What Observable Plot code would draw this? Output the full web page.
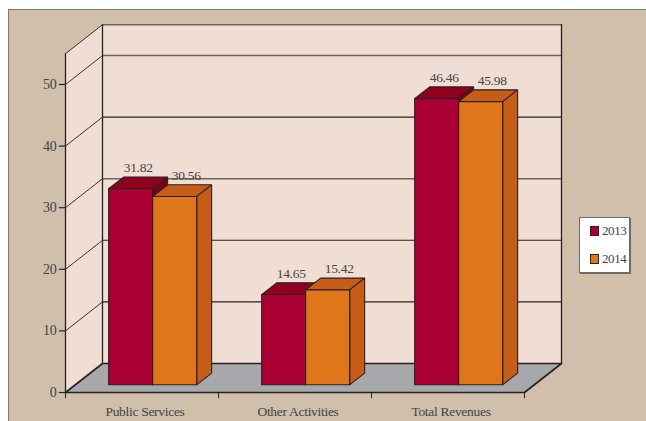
<!DOCTYPE html>
<html><head><meta charset="utf-8">
<style>
html,body{margin:0;padding:0;background:#fff;width:646px;height:421px;overflow:hidden}
#panel{position:absolute;left:8px;top:9px;right:0;bottom:0;background:#cfbfab;border-top:1px solid #7f7a76;border-left:1px solid #7f7a76}
#chart{position:absolute;left:0;top:0}
#chart svg{background:transparent;display:block}
#chart text{letter-spacing:-.3px}
#legend{position:absolute;left:579px;top:217px;width:49px;height:54px;background:#fff;border:1px solid #6f6a68;box-shadow:1px 1px 0 #6f6a68;font:13px "Liberation Serif",serif;color:#444;letter-spacing:-.4px}
#legend div{position:absolute;left:10px;display:flex;align-items:center;gap:3px;line-height:14px}
#legend i{display:block;width:7px;height:8px;border:1px solid #2a2020}
</style>
<script src="https://cdn.jsdelivr.net/npm/d3@7"></script>
<script src="https://cdn.jsdelivr.net/npm/@observablehq/plot@0.6"></script>
</head><body>
<div id="panel"></div>
<div id="chart"></div>
<div id="legend"></div>
<script>
const categories = ["Public Services", "Other Activities", "Total Revenues"];
const years = ["2013", "2014"];
const values2013 = [31.82, 14.65, 46.46];
const values2014 = [30.56, 15.42, 45.98];
const yTicks = [0, 10, 20, 30, 40, 50];
const frontColors = ["#ab0033", "#df771a"];
const topColors = ["#8f001f", "#c65d16"];
const sideColors = ["#7a0018", "#c65d16"];

// Oblique projection: depth 0 = front plane, depth 1 = back wall
const depthX = 37 / 153, depthY = 29 / 6.16, yMax = 55;
const P = (u, v, d) => ({x: u + d * depthX, y: v + d * depthY});
const ink = "#2a2020";
const softInk = "#6f645e";

function poly(list, id, color, corners) {
  for (const [u, v, d] of corners) list.push({id, color, ...P(u, v, d)});
}
const wall = [], floor = [], slants = [], backLines = [], softBackLines = [], faces = [], labels = [];
poly(wall, "back", "#f0ddd4", [[0,0,1],[3,0,1],[3,yMax,1],[0,yMax,1]]);
poly(wall, "side", "#f0ddd4", [[0,0,0],[0,0,1],[0,yMax,1],[0,yMax,0]]);
poly(floor, "floor", "#a7a8ab", [[0,0,0],[0,0,1],[3,0,1],[3,0,0],[0,0,0]]);
for (const t of [...yTicks.slice(1), yMax]) {
  poly(slants, "s" + t, ink, [[0,t,0],[0,t,1]]);
  poly(t === 50 || t === 30 || t === yMax ? softBackLines : backLines, "b" + t, ink, [[0,t,1],[3,t,1]]);
}
const barStart = 0.218, barWidth = 44 / 153, d0 = 0.265, d1 = 0.67;
categories.forEach((c, i) => {
  [values2013, values2014].forEach((vals, s) => {
    const v = vals[i], a = i + barStart + s * barWidth, b = a + barWidth;
    const id = c + years[s];
    poly(faces, id + "t", topColors[s], [[a,v,d0],[a,v,d1],[b,v,d1],[b,v,d0],[a,v,d0]]);
    poly(faces, id + "s", sideColors[s], [[b,0,d0],[b,0,d1],[b,v,d1],[b,v,d0],[b,0,d0]]);
    poly(faces, id + "f", frontColors[s], [[a,0,d0],[b,0,d0],[b,v,d0],[a,v,d0],[a,0,d0]]);
    const top = P((a + b) / 2, v, (d0 + d1) / 2);
    labels.push({x: top.x, y: P(a, v, d1).y, text: v.toFixed(2), series: s});
  });
});
const catLabels = categories.map((name, i) => ({name, x: i + 0.5}));
const textFill = "#444";
const serif = "Liberation Serif";

const chart = Plot.plot({
  width: 646, height: 421, margin: 0,
  style: {background: "transparent", fontFamily: serif},
  x: {type: "linear", domain: [0, 3], range: [65, 524], axis: null},
  y: {type: "linear", domain: [0, 50], range: [392, 84], axis: null},
  color: {type: "identity"},
  marks: [
    Plot.line(wall, {x: "x", y: "y", z: "id", fill: "color", stroke: null}),
    Plot.line(slants, {x: "x", y: "y", z: "id", stroke: ink, strokeWidth: 0.9}),
    Plot.line(backLines, {x: "x", y: "y", z: "id", stroke: ink, strokeWidth: 1.1}),
    Plot.line(softBackLines, {x: "x", y: "y", z: "id", stroke: softInk, strokeWidth: 1.4}),
    Plot.line([P(0,0,0), P(0,yMax,0)], {x: "x", y: "y", stroke: ink, strokeWidth: 1.3}),
    Plot.line([P(0,0,1), P(0,yMax,1)], {x: "x", y: "y", stroke: ink, strokeWidth: 1.3}),
    Plot.line([P(3,0,1), P(3,yMax,1)], {x: "x", y: "y", stroke: ink, strokeWidth: 1.3}),
    Plot.line(floor, {x: "x", y: "y", z: "id", fill: "color", stroke: null}),
    Plot.line([P(0,0,0), P(0,0,1), P(3,0,1), P(3,0,0)], {x: "x", y: "y", stroke: ink, strokeWidth: 1.6}),
    Plot.line([P(0,0,0), P(3,0,0)], {x: "x", y: "y", stroke: ink, strokeWidth: 1.3}),
    Plot.line(faces, {x: "x", y: "y", z: "id", fill: "color", stroke: ink, strokeWidth: 1.1, strokeLinejoin: "miter"}),
    Plot.text(labels.filter(d => d.series === 0), {x: "x", y: "y", text: "text", dy: -9, fill: textFill, fontSize: 13.5, fontFamily: serif}),
    Plot.text(labels.filter(d => d.series === 1), {x: "x", y: "y", text: "text", dy: -9, dx: 4, fill: textFill, fontSize: 13.5, fontFamily: serif}),
    Plot.ruleX([0, 1, 2, 3], {x: d => d, y1: 0, y2: -1, stroke: ink, strokeWidth: 1}),
    Plot.ruleY(yTicks, {y: d => d, x1: -0.04, x2: 0, stroke: ink, strokeWidth: 1.2}),
    Plot.text(yTicks, {x: 0, y: d => d, text: d => String(d), textAnchor: "end", dx: -9, fill: textFill, fontSize: 14, fontFamily: serif}),
    Plot.text(catLabels, {x: "x", y: 0, text: "name", dy: 19, dx: 3, fill: textFill, fontSize: 13.5, fontFamily: serif})
  ]
});
document.getElementById("chart").append(chart);

const legend = document.getElementById("legend");
years.forEach((y, i) => {
  const row = document.createElement("div");
  row.style.top = (i === 0 ? 6 : 34) + "px";
  const sw = document.createElement("i");
  sw.style.background = frontColors[i];
  const t = document.createElement("span");
  t.textContent = y;
  row.append(sw, t);
  legend.append(row);
});
</script>
</body></html>
